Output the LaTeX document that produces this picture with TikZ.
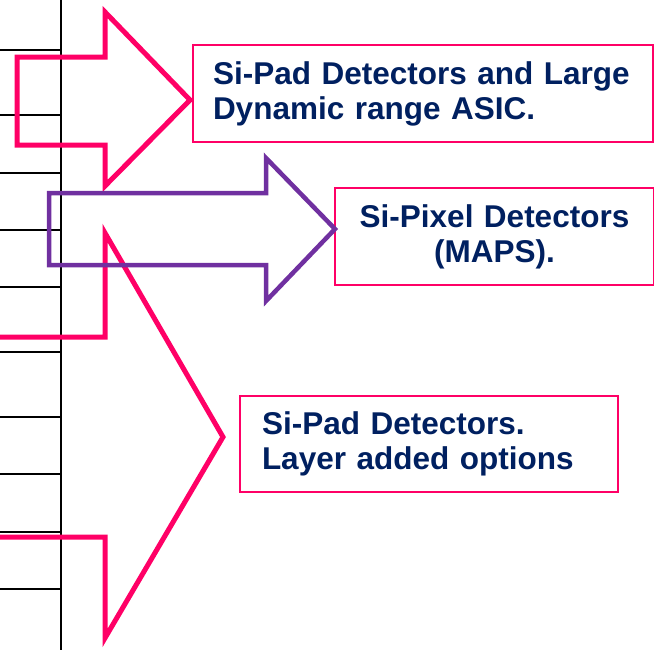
\documentclass[tikz,border=0pt]{standalone}
\usepackage{fontspec}
\setmainfont{Liberation Sans}
\definecolor{pinkc}{HTML}{FF0066}
\definecolor{purplec}{HTML}{7030A0}
\definecolor{navy}{HTML}{002060}
\begin{document}
\begin{tikzpicture}[x=1pt,y=-1pt,
  scale line/.style={black,line width=1.5pt},
  axis line/.style={black,line width=2.5pt},
  pinkarrow/.style={draw=pinkc,line width=5pt,miter limit=20},
  purplearrow/.style={draw=purplec,line width=4.5pt,miter limit=20},
  labelbox/.style={draw=pinkc,line width=2pt,fill=white,text=navy,
    font=\fontsize{31.5}{35}\selectfont\bfseries,inner ysep=0pt}]
\useasboundingbox (0,0) rectangle (654,649);
% vertical axis and ticks
\coordinate (atop) at (61,-5);
\coordinate (abot) at (61,655);
\draw[axis line] (atop) -- (abot);
\foreach \yy in {50,115,173,230,287,352,417,474,532,589}{
  \coordinate (tl\yy) at (-5,\yy);
  \coordinate (tr\yy) at (61,\yy);
  \draw[scale line] (tl\yy) -- (tr\yy);
}
% boxes
\node[labelbox,minimum width=460pt,minimum height=97pt,text width=420pt,
  inner xsep=20pt,align=left] (b1) at (423,93.5)
  {Si-Pad Detectors and Large\\Dynamic range ASIC.};
\node[labelbox,minimum width=319pt,minimum height=97pt,text width=279pt,
  inner xsep=20pt,align=center] (b2) at (494.5,236.5)
  {Si-Pixel Detectors\\(MAPS).};
\node[labelbox,minimum width=378pt,minimum height=96pt,text width=334pt,
  inner xsep=22pt,align=left] (b3) at (429,444)
  {Si-Pad Detectors.\\Layer added options};
% arrows
\draw[pinkarrow] (17,57) -- (105,57) -- (105,12) -- (190,100) -- (105,186)
  -- (105,145) -- (17,145) -- cycle;
\draw[pinkarrow] (-5,337) -- (105,337) -- (105,233) -- (223,437) -- (105,638)
  -- (105,537) -- (-5,537);
\draw[purplearrow] (49,193) -- (266,193) -- (266,158) -- (335,229) -- (266,301)
  -- (266,265) -- (49,265) -- cycle;
\end{tikzpicture}
\end{document}
